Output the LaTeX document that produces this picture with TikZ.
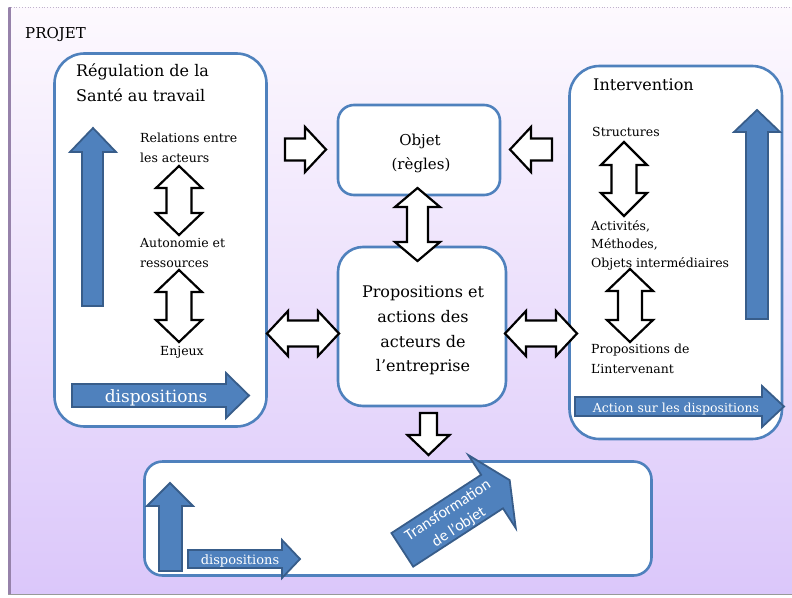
\documentclass[tikz,border=0pt]{standalone}
\usepackage{fontspec}
\setmainfont{DejaVu Serif}
\newfontfamily\calibfont{Carlito}
\newcommand\fsz[1]{\fontsize{#1}{#1}\selectfont}
\definecolor{boxblue}{RGB}{79,129,189}
\definecolor{midblue}{RGB}{79,129,189}
\definecolor{darkblue}{RGB}{56,93,138}
\definecolor{bgtop}{RGB}{253,249,254}
\definecolor{bgbot}{RGB}{219,199,250}
\definecolor{edgecol}{RGB}{150,130,170}
\begin{document}
\begin{tikzpicture}[x=1pt,y=-1pt,
  box/.style={draw=boxblue, line width=2.6pt, fill=white, inner sep=0pt},
  outarrow/.style={draw=black, line width=2.2pt, fill=white, line join=miter},
  bluearrow/.style={draw=darkblue, line width=1.8pt, fill=midblue, line join=miter},
  lab/.style={anchor=base west, inner sep=0pt, font=\fsz{12.5}},
  title/.style={anchor=base west, inner sep=0pt, font=\fsz{16}},
  ctr/.style={anchor=base, inner sep=0pt, font=\fsz{16}},
  wlab/.style={anchor=base, inner sep=0pt, text=white}]
\useasboundingbox (0,0) rectangle (792,597);
% background
\fill[white] (0,0) rectangle (792,597);
\shade[top color=bgtop, bottom color=bgbot] (8,7) rectangle (792,594);
\draw[edgecol, line width=2.5pt] (9.5,7) -- (9.5,594);
\draw[edgecol!60, dotted, line width=0.8pt] (8,7) -- (792,7);
\draw[gray!80, line width=1.5pt] (8,594.5) -- (792,594.5);
\node[lab, font=\fsz{15}] (projet) at (25,38) {PROJET};
% boxes
\node[box, rounded corners=30pt, minimum width=212pt, minimum height=373pt] (reg) at (160.5,240) {};
\node[box, rounded corners=16pt, minimum width=162pt, minimum height=90pt] (objet) at (419,150) {};
\node[box, rounded corners=25pt, minimum width=168pt, minimum height=159pt] (props) at (422,326.5) {};
\node[box, rounded corners=30pt, minimum width=212.5pt, minimum height=373pt] (interv) at (675.75,252.5) {};
\node[box, rounded corners=18pt, minimum width=507pt, minimum height=114pt] (bottom) at (398,518.5) {};
% left box
\node[title] (reg1) at (76,76) {Régulation de la};
\node[title] (reg2) at (76,101) {Santé au travail};
\draw[bluearrow] (82,306) -- (82,152) -- (70,152) -- (93,128) -- (116,152) -- (103,152) -- (103,306) -- cycle;
\node[lab] (rel1) at (140,142) {Relations entre};
\node[lab] (rel2) at (140,162) {les acteurs};
\draw[outarrow] (179,166) -- (202,188) -- (191.5,188) -- (191.5,213) -- (202,213) -- (179,235) -- (156,213) -- (166.5,213) -- (166.5,188) -- (156,188) -- cycle;
\node[lab] (aut1) at (140,247) {Autonomie et};
\node[lab] (aut2) at (140,267) {ressources};
\draw[outarrow] (179,270) -- (202,292) -- (191.5,292) -- (191.5,320) -- (202,320) -- (179,342) -- (156,320) -- (166.5,320) -- (166.5,292) -- (156,292) -- cycle;
\node[lab, anchor=base] (enj) at (182,355) {Enjeux};
\draw[bluearrow] (72,384) -- (226,384) -- (226,373) -- (249,395.5) -- (226,418) -- (226,407) -- (72,407) -- cycle;
\node[wlab, font=\fsz{17}] (disp1) at (156,402) {dispositions};
% centre
\draw[outarrow] (285,138.5) -- (305,138.5) -- (305,127) -- (326,149.5) -- (305,172) -- (305,160.5) -- (285,160.5) -- cycle;
\draw[outarrow] (552,138.5) -- (531,138.5) -- (531,127) -- (510,149.5) -- (531,172) -- (531,160.5) -- (552,160.5) -- cycle;
\node[ctr, font=\fsz{15}] (obj1) at (420,145) {Objet};
\node[ctr, font=\fsz{15}] (obj2) at (421,169) {(règles)};
\draw[outarrow] (417.5,188) -- (440,207) -- (428,207) -- (428,242) -- (440,242) -- (417.5,261) -- (395,242) -- (407,242) -- (407,207) -- (395,207) -- cycle;
\node[ctr] (p1) at (423,297) {Propositions et};
\node[ctr] (p2) at (423,322) {actions des};
\node[ctr] (p3) at (423,347) {acteurs de};
\node[ctr] (p4) at (423,371) {l'entreprise};
\draw[outarrow] (267,333.5) -- (288,311) -- (288,320.5) -- (318,320.5) -- (318,311) -- (339,333.5) -- (318,356) -- (318,346.5) -- (288,346.5) -- (288,356) -- cycle;
\draw[outarrow] (505,333.5) -- (526,311) -- (526,320.5) -- (556,320.5) -- (556,311) -- (577,333.5) -- (556,356) -- (556,346.5) -- (526,346.5) -- (526,356) -- cycle;
\draw[outarrow] (420,413) -- (437,413) -- (437,435) -- (449.5,435) -- (428.5,455) -- (407.5,435) -- (420,435) -- cycle;
% right box
\node[title] (int) at (593,90) {Intervention};
\node[lab] (str) at (592,136) {Structures};
\draw[outarrow] (624,142) -- (647,165) -- (636.5,165) -- (636.5,193) -- (647,193) -- (624,216) -- (601,193) -- (611.5,193) -- (611.5,165) -- (601,165) -- cycle;
\node[lab] (act) at (591,230) {Activités,};
\node[lab] (meth) at (591,248) {Méthodes,};
\node[lab] (objint) at (591,267) {Objets intermédiaires};
\draw[outarrow] (630,269) -- (653,291) -- (642,291) -- (642,320) -- (653,320) -- (630,342) -- (607,320) -- (618,320) -- (618,291) -- (607,291) -- cycle;
\node[lab] (propi1) at (591,353) {Propositions de};
\node[lab] (propi2) at (591,373) {L'intervenant};
\draw[bluearrow] (746,319) -- (746,132) -- (734,132) -- (757,110) -- (780,132) -- (768,132) -- (768,319) -- cycle;
\draw[bluearrow] (575,397) -- (762,397) -- (762,386) -- (784,406.5) -- (762,427) -- (762,416) -- (575,416) -- cycle;
\node[wlab, font=\fsz{12.5}] (actdisp) at (676,412) {Action sur les dispositions};
% bottom box
\draw[bluearrow] (159,571) -- (159,506) -- (147,506) -- (170,483) -- (193,506) -- (182,506) -- (182,571) -- cycle;
\draw[bluearrow] (188,550) -- (282,550) -- (282,540) -- (300,559) -- (282,578) -- (282,568) -- (188,568) -- cycle;
\node[wlab, font=\fsz{13}] (disp2) at (240,564) {dispositions};
\begin{scope}[shift={(456,515)}, rotate=33]
\draw[bluearrow] (-64,-20) -- (43,-20) -- (43,-43.5) -- (64,0) -- (43,43.5) -- (43,20) -- (-64,20) -- cycle;
\end{scope}
\node[text=white, inner sep=0pt, rotate=33, align=center, font=\calibfont\fontsize{16}{20}\selectfont] (tr) at (453.5,519) {Transformation\\de l’objet};
\end{tikzpicture}
\end{document}
